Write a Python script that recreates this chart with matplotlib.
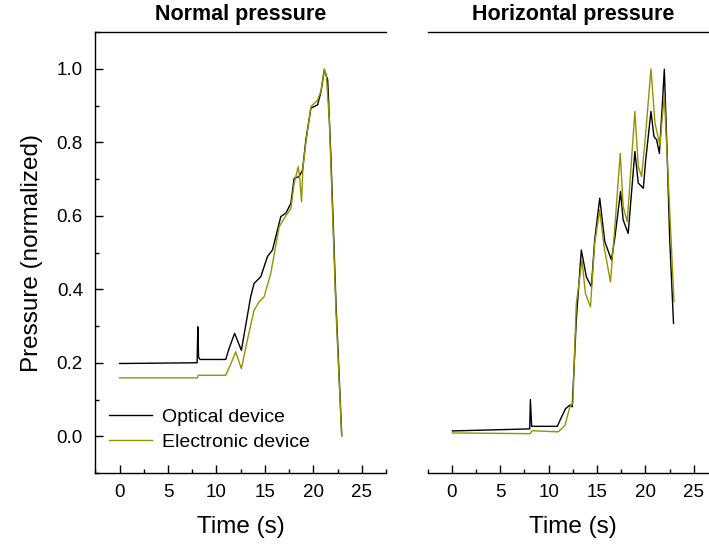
import matplotlib
matplotlib.use("Agg")
import matplotlib.pyplot as plt
from matplotlib.ticker import MultipleLocator

plt.rcParams['font.family'] = ['Liberation Sans', 'DejaVu Sans']

# ---- Normal pressure ----
normal_opt_t = [0.0, 8.0, 8.07, 8.15, 8.3, 10.95, 11.3, 11.87, 12.57, 13.53, 13.88, 14.57,
                15.26, 15.78, 16.64, 17.16, 17.68, 18.02, 18.54, 18.89, 19.23, 19.75,
                20.44, 20.79, 21.13, 21.48, 21.8, 22.34, 22.93]
normal_opt_y = [0.198, 0.200, 0.298, 0.215, 0.209, 0.209, 0.239, 0.28, 0.234, 0.38, 0.416, 0.434,
                0.489, 0.507, 0.598, 0.607, 0.634, 0.702, 0.707, 0.725, 0.807, 0.893,
                0.902, 0.938, 0.997, 0.97, 0.77, 0.36, 0.003]

normal_ele_t = [0.0, 8.05, 8.1, 10.95, 11.5, 11.98, 12.57, 13.19, 13.88, 14.4, 14.92, 15.6,
                16.47, 16.99, 17.68, 18.02, 18.44, 18.6, 18.78, 18.92, 19.23, 19.75, 20.44,
                20.79, 21.13, 21.34, 21.65, 22.34, 22.93]
normal_ele_y = [0.159, 0.159, 0.166, 0.166, 0.198, 0.23, 0.184, 0.262, 0.343, 0.366, 0.38, 0.443,
                0.57, 0.593, 0.62, 0.689, 0.734, 0.70, 0.638, 0.73, 0.80, 0.897, 0.915,
                0.94, 1.0, 0.98, 0.861, 0.34, 0.0]

# ---- Horizontal pressure ----
horiz_opt_t = [0.07, 8.05, 8.12, 8.25, 10.9, 11.26, 11.75, 12.2, 12.44, 12.86, 13.38, 13.9,
               14.42, 14.76, 15.28, 15.8, 16.49, 16.84, 17.43, 17.7, 18.22, 18.91, 19.26,
               19.78, 20.02, 20.57, 20.88, 21.15, 21.44, 21.75, 21.95, 22.25, 22.5, 22.9]
horiz_opt_y = [0.0145, 0.02, 0.10, 0.027, 0.027, 0.048, 0.075, 0.085, 0.08, 0.316, 0.507, 0.434,
               0.407, 0.534, 0.648, 0.53, 0.48, 0.54, 0.666, 0.589, 0.552, 0.775, 0.689,
               0.675, 0.75, 0.884, 0.816, 0.807, 0.77, 0.906, 0.999, 0.761, 0.54, 0.307]

horiz_ele_t = [0.07, 8.1, 8.3, 11.0, 11.7, 12.2, 12.5, 12.86, 13.45, 13.8, 14.32, 14.76,
               15.28, 15.73, 16.39, 16.84, 17.4, 17.7, 18.12, 18.91, 19.26, 19.6, 19.95,
               20.57, 20.98, 21.5, 21.78, 21.95, 22.3, 22.95]
horiz_ele_y = [0.009, 0.007, 0.015, 0.012, 0.03, 0.08, 0.09, 0.36, 0.48, 0.389, 0.352, 0.525,
               0.616, 0.516, 0.42, 0.57, 0.77, 0.625, 0.584, 0.884, 0.734, 0.707, 0.80,
               1.0, 0.853, 0.79, 0.88, 0.925, 0.73, 0.366]

titles = ["Normal pressure", "Horizontal pressure"]
legend_labels = ["Optical device", "Electronic device"]
xticks = [0, 5, 10, 15, 20, 25]
yticks = [0.0, 0.2, 0.4, 0.6, 0.8, 1.0]

OLIVE = '#939300'

fig = plt.figure(figsize=(7.09, 5.47), dpi=100)
ax1 = fig.add_axes([0.1346, 0.1353, 0.4098, 0.806])
ax2 = fig.add_axes([0.603, 0.1353, 0.4098, 0.806])

for ax, (ot, oy, et, ey), title in zip(
        [ax1, ax2],
        [(normal_opt_t, normal_opt_y, normal_ele_t, normal_ele_y),
         (horiz_opt_t, horiz_opt_y, horiz_ele_t, horiz_ele_y)],
        titles):
    ax.plot(ot, oy, color='black', lw=1.0, label=legend_labels[0])
    ax.plot(et, ey, color=OLIVE, lw=1.0, label=legend_labels[1])
    ax.set_xlim(-2.5, 27.5)
    ax.set_ylim(-0.1, 1.1)
    ax.set_xticks(xticks)
    ax.set_xticklabels([str(v) for v in xticks])
    ax.xaxis.set_minor_locator(MultipleLocator(2.5))
    ax.spines['right'].set_visible(False)
    ax.tick_params(axis='x', which='major', direction='in', length=6, width=1, pad=8, labelsize=13.5)
    ax.tick_params(axis='x', which='minor', direction='in', length=3, width=1)
    ax.set_title(title, fontsize=15.5, fontweight='bold', pad=9)
    ax.set_xlabel("Time (s)", fontsize=17.5, labelpad=11)
    for s in ax.spines.values():
        s.set_linewidth(1.0)

ax1.set_yticks(yticks)
ax1.set_yticklabels([f"{v:.1f}" for v in yticks])
ax1.yaxis.set_minor_locator(MultipleLocator(0.1))
ax1.tick_params(axis='y', which='major', direction='in', length=6, width=1, pad=9, labelsize=13.5)
ax1.tick_params(axis='y', which='minor', direction='in', length=3, width=1)
ax1.set_ylabel("Pressure (normalized)", fontsize=17.5, labelpad=10)

ax2.spines['left'].set_visible(False)
ax2.set_yticks([])

ax1.legend(loc='lower left', bbox_to_anchor=(0.0, 0.02), frameon=False, fontsize=14,
           handlelength=2.2, handletextpad=0.5, labelspacing=0.35, borderaxespad=0.3)

fig.savefig("out.png", dpi=100)
